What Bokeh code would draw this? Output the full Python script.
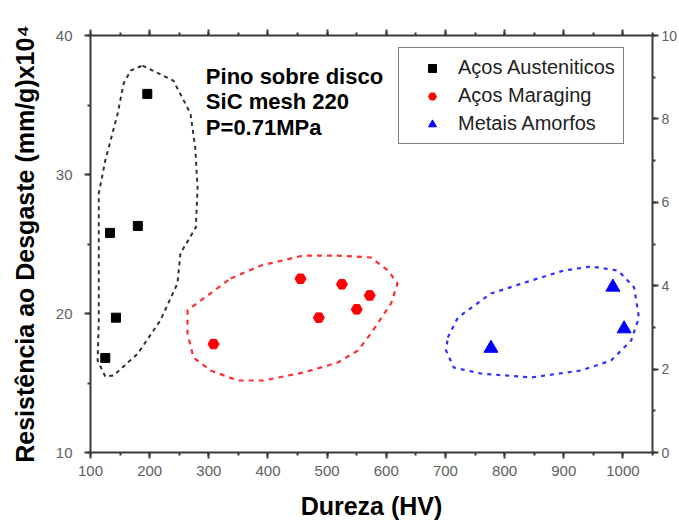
from bokeh.plotting import figure
from bokeh.models import (Range1d, LinearAxis, Legend, LegendItem, ColumnDataSource,
                          SingleIntervalTicker)
from bokeh.embed import file_html
from bokeh.resources import INLINE
from bokeh.core.properties import value

# ---- data ----
aust_x = [196, 180, 133, 143, 125]
aust_y = [35.8, 26.3, 25.8, 19.7, 16.8]
mar_x = [308, 455, 486, 525, 550, 572]
mar_y = [17.8, 22.5, 19.7, 22.1, 20.3, 21.3]
amor_x = [777, 983, 1002]
amor_y = [17.5, 21.9, 18.9]

series_names = ["Aços Austeniticos", "Aços Maraging", "Metais Amorfos"]
note_lines = ["Pino sobre disco", "SiC mesh 220", "P=0.71MPa"]

# hand-drawn group outlines (data coordinates)
aust_out_x = [188, 240, 269, 277, 281, 278, 252, 247, 218, 180, 139, 125, 112, 114, 114, 114, 125, 146, 156, 168]
aust_out_y = [37.84, 36.76, 34.39, 31.94, 29.06, 26.19, 24.32, 22.16, 19.50, 17.12, 15.54, 15.47, 16.62, 19.50, 24.32, 28.63, 31.01, 34.39, 36.55, 37.48]
mar_out_x = [337, 388, 460, 518, 574, 603, 619, 608, 574, 552, 518, 460, 393, 349, 303, 274, 264, 264, 291]
mar_out_y = [22.52, 23.45, 24.17, 24.17, 24.03, 23.09, 22.16, 20.72, 18.56, 17.34, 16.47, 15.76, 15.18, 15.18, 15.90, 16.83, 18.56, 20.22, 21.08]
amor_out_x = [704, 721, 777, 845, 900, 946, 992, 1019, 1027, 1014, 980, 929, 845, 760, 714, 701]
amor_out_y = [18.27, 19.71, 21.44, 22.37, 23.09, 23.38, 23.09, 21.87, 19.71, 18.06, 16.62, 15.90, 15.40, 15.68, 16.11, 17.34]

x_start, x_end = 100, 1050
y_start, y_end = 10, 40
y2_start, y2_end = 0, 10

FONT = "Liberation Sans"

p = figure(width=679, height=525, frame_width=562, frame_height=417,
           x_range=Range1d(x_start, x_end), y_range=Range1d(y_start, y_end),
           output_backend="svg", toolbar_location=None,
           min_border_left=90, min_border_right=27, min_border_top=35, min_border_bottom=73)
p.extra_y_ranges = {"right": Range1d(y2_start, y2_end)}
p.xgrid.visible = False
p.ygrid.visible = False
p.outline_line_color = None
p.background_fill_color = "white"
p.border_fill_color = "white"

# outlines
def closed(a):
    return list(a) + [a[0]]

p.line(closed(aust_out_x), closed(aust_out_y), line_color="#303030", line_width=2, line_dash="4 4")
p.line(closed(mar_out_x), closed(mar_out_y), line_color="#ff3030", line_width=2.2, line_dash="5 5")
p.line(closed(amor_out_x), closed(amor_out_y), line_color="#3030ff", line_width=2.2, line_dash="4 5")

r1 = p.scatter(aust_x, aust_y, marker="square", size=9, color="black")
r2 = p.scatter(mar_x, mar_y, marker="hex", size=11, color="red")
r3 = p.scatter(amor_x, amor_y, marker="triangle", size=14, color="blue")

# annotation text
note_src = ColumnDataSource(dict(x=[295] * 3, y=[37.95 - i * 1.83 for i in range(3)], t=note_lines))
p.text(x="x", y="y", text="t", source=note_src, text_font=value(FONT), text_font_size="22px",
       text_font_style="bold", text_baseline="top", text_align="left", text_color="black")

# axes styling
def style_axis(ax, label_size="15px"):
    ax.axis_line_width = 2
    ax.axis_line_color = "#3a3a3a"
    ax.major_tick_line_color = "#3a3a3a"
    ax.minor_tick_line_color = "#3a3a3a"
    ax.major_tick_line_width = 2
    ax.minor_tick_line_width = 2
    ax.major_tick_out = 6
    ax.major_tick_in = 0
    ax.minor_tick_out = 3
    ax.minor_tick_in = 0
    ax.major_label_text_font = FONT
    ax.major_label_text_font_size = label_size
    ax.major_label_text_color = "#606060"

xb = p.xaxis[0]
xb.ticker = SingleIntervalTicker(interval=100, num_minor_ticks=2)
style_axis(xb)
xb.major_label_standoff = 7
xb.axis_label = "Dureza (HV)"
xb.axis_label_text_font = FONT
xb.axis_label_text_font_size = "25px"
xb.axis_label_text_font_style = "bold"
xb.axis_label_text_color = "black"
xb.axis_label_standoff = 13

yl = p.yaxis[0]
yl.ticker = SingleIntervalTicker(interval=10, num_minor_ticks=2)
style_axis(yl)
yl.major_label_standoff = 12
yl.axis_label = "Resistência ao Desgaste (mm/g)x10⁴"
yl.axis_label_text_font = FONT
yl.axis_label_text_font_size = "25px"
yl.axis_label_text_font_style = "bold"
yl.axis_label_text_color = "black"
yl.axis_label_standoff = 14

xt = LinearAxis(ticker=SingleIntervalTicker(interval=100, num_minor_ticks=2))
style_axis(xt)
xt.major_label_overrides = {v: "" for v in range(0, 1200, 100)}
xt.major_label_standoff = 0
p.add_layout(xt, "above")

yr = LinearAxis(y_range_name="right", ticker=SingleIntervalTicker(interval=2, num_minor_ticks=2))
style_axis(yr, "14px")
yr.major_label_standoff = 3
p.add_layout(yr, "right")

legend = Legend(items=[LegendItem(label=series_names[0], renderers=[r1]),
                       LegendItem(label=series_names[1], renderers=[r2]),
                       LegendItem(label=series_names[2], renderers=[r3])],
                location=(308, 308))
legend.border_line_color = "black"
legend.border_line_width = 1
legend.background_fill_alpha = 1
legend.padding = 8
legend.margin = 0
legend.spacing = 5
legend.glyph_width = 50
legend.glyph_height = 20
legend.label_height = 20
legend.label_standoff = 1
legend.label_text_font = FONT
legend.label_text_font_size = "20px"
legend.label_text_color = "#222222"
p.add_layout(legend)

open("out.html", "w").write(file_html(p, INLINE))
